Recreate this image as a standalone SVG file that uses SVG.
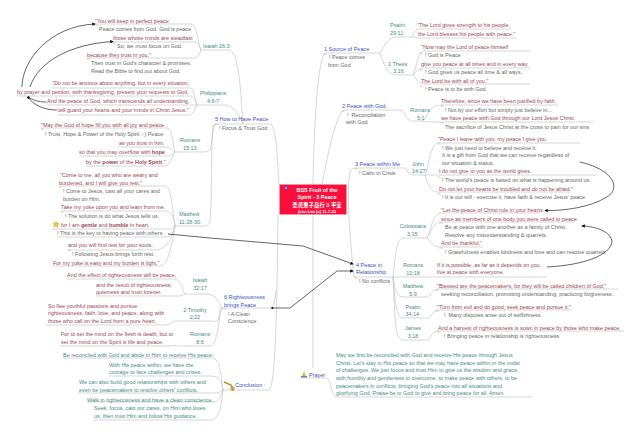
<svg xmlns="http://www.w3.org/2000/svg" width="640" height="437" viewBox="0 0 640 437">
<style>
text{font-family:"Liberation Sans",Arial,sans-serif;font-size:5.45px;white-space:pre}
.r{fill:#9a4452}.g{fill:#666}.t{fill:#458a86}.b{fill:#3a50c4;font-size:5.5px}
.c{text-anchor:middle}.h{font-weight:bold}
.w{fill:#fff;text-anchor:middle;font-weight:bold;font-size:5.45px}
.l{fill:none;stroke:#c4c4c4;stroke-width:.7}
.a{fill:none;stroke:#222;stroke-width:.7}
.n{fill:none;stroke:#999;stroke-width:.5}
</style>
<defs>
<marker id="ah" markerWidth="5" markerHeight="5" refX="4" refY="2.5" orient="auto"><path d="M0 0L5 2.500L0 5z" fill="#111"/></marker>
<marker id="as" markerWidth="4" markerHeight="4" refX="1" refY="2" orient="auto"><circle cx="2" cy="2" r="1.500" fill="#111"/></marker>
<path id="m" class="n" d="M-1.500 0L0-1.600L1.500 0"/>
</defs>
<g id="connectors">
<path class="l" d="M313 184C314 120 318 60 325 53H380C386 44 388 37 396 37H411C414 34 415 29 420 29H511M411 37C414 37 418 38 420 38H517M380 53C384 65 388 75 396 75H413C416 70 418 51 424 51H530M413 75C416 72 418 68 424 68H530M413 75C416 78 418 84 424 84H530"/>
<path class="l" d="M322 184C326 165 335 115 344 110H402C405 115 408 121 412 121H423C428 115 430 105 441 105H558M423 121C428 122 432 122 441 122H593"/>
<path class="l" d="M354 277C350 240 346 190 350 172C351 169 353 168 357 168H405C408 172 410 175 414 175H425C429 165 431 143 438 143H580M425 175H597M425 175C428 185 431 192 437 192H570"/>
<path class="l" d="M354 277H393C395 260 396 238 403 238H427C430 235 432 214 440 213H540M427 238C430 235 433 222 440 222H575M427 238C430 240 432 247 440 247H483M393 277H547M393 277C395 290 397 297 403 297H428C431 295 433 289 438 289H618M393 277C395 300 396 318 403 318H428C432 316 434 310 438 310H572M393 277C395 320 395 340 403 340H428C431 337 433 331 438 331H624"/>
<path class="l" d="M313 215V368M300 378H327C331 380 331 397 337 397H532"/>
<path class="l" d="M279 184C277 150 276 130 271 124H215C211 135 212 145 210 150C208 152 205 152 200 152H175C172 150 170 147 165 147H119M175 152C172 156 170 156 165 156H79M175 152C172 156 170 166 165 166H86M175 152C173 145 172 128 167 128H41M243 124C241 100 240 55 230 50H201C198 45 197 25 192 24H95M201 50C199 45 198 42 193 42H113M201 50C199 55 198 58 193 58H87M243 124C238 110 230 105 225 105H197C195 100 194 88 190 88H52M197 105C195 100 194 96 190 96H17M197 105H47M197 105C195 110 193 115 188 115H58M213 124C211 150 212 200 210 220C209 225 207 226 205 226H175C172 210 172 186 165 186H60M175 226C174 218 172 211 165 211H61M175 226C172 229 170 229 165 229H56M175 226C173 232 172 237 166 237H57M175 226C172 240 165 250 155 250H68M175 226C172 245 168 266 160 266H53"/>
<path class="l" d="M278 215C277 300 276 375 270 390H223M276 290C275 300 274 308 270 308H222C218 310 220 320 217 321C214 322 212 321 210 321H175C172 322 170 325 165 325H46M222 308C218 320 218 345 210 346H178C175 345 173 346 170 346H60M222 308C218 300 216 294 205 294H185C182 290 182 281 175 279H67M185 294C183 295 182 296 178 296H96M223 390C221 375 220 358 212 358H63M223 390C221 380 220 376 210 376H108M223 390C221 392 218 393 213 393H78M223 390C221 396 218 402 213 402H87M223 390C221 405 220 420 210 420H93"/>
<path class="a" marker-end="url(#ah)" d="M22 87C22 60 50 26 95 24"/>
<path class="a" marker-end="url(#ah)" d="M30 87C38 62 70 44 113 41.500"/>
<path class="a" marker-start="url(#as)" d="M28 97C33 100 38 102 46 102"/>
<path class="a" marker-start="url(#as)" d="M28 97C33 105 44 110 57 110"/>
<path class="a" marker-end="url(#ah)" d="M580 162C615 170 622 190 605 198C590 207 565 211 545 210.500"/>
<path class="a" marker-end="url(#ah)" d="M547 267C585 265 610 255 612 242C612 232 595 226 582 226"/>
<path class="a" marker-end="url(#ah)" d="M168 234L210 238L303 246L353 264"/>
<path class="a" marker-end="url(#ah)" d="M290 308L337 271H353"/>
<path class="a" marker-end="url(#as)" d="M290 308H273"/>
</g>
<g id="root"><rect x="279.500" y="184.500" width="67" height="30" fill="#fb0f3c" stroke="#e8a0a8" stroke-width=".6"/>
<circle cx="286" cy="188" r="2" fill="#7a3fd0"/><circle cx="286" cy="188" r=".8" fill="#ffe070"/>
<text class="w" x="317" y="191.500">BSS Fruit of the</text><text class="w" x="317" y="199">Spirit - 3 Peace</text>
<text class="w" x="317" y="206.500" style="font-family:'Liberation Sans','Noto Sans CJK SC',sans-serif">圣灵果子品行 3 平安</text>
<text class="w" x="317" y="212.500" style="font-size:4.1px">(Lim Liat (c) 11-7-23</text></g>
<g id="n1"><text class="b" x="324" y="50.500">1 Source of Peace</text><use href="#m" x="325" y="55"/><text class="g" x="329" y="59">! Peace comes</text><text class="g" x="328" y="66.500">from God</text>
<text class="t" x="390" y="27">Psalm</text><text class="t" x="390" y="35">29:11:</text>
<text class="t" x="388" y="65.500">2 Thess</text><text class="t" x="393" y="73">3:16:</text>
<text class="r" x="417" y="27">"The Lord gives strength to his people;</text><text class="r" x="418" y="36">the Lord blesses his people with peace."</text>
<text class="r" x="421" y="48.500">"Now may the Lord of peace himself</text><use href="#m" x="421" y="54"/><text class="g" x="425" y="57">! God is Peace</text>
<text class="r" x="421" y="65.500">give you peace at all times and in every way.</text><use href="#m" x="421" y="71"/><text class="g" x="425" y="74">! God gives us peace all time &amp; all ways.</text>
<text class="r" x="421" y="82.500">The Lord be with all of you."</text><use href="#m" x="421" y="87"/><text class="g" x="425" y="91">! Peace is to be with God.</text></g>
<g id="n2"><text class="b" x="342" y="108">2 Peace with God:</text><use href="#m" x="343" y="112"/><text class="g" x="347" y="116.500">!  Reconciliation</text><text class="g" x="346" y="124">with God</text>
<text class="t" x="410" y="111.500">Romans</text><text class="t" x="417" y="119.500">5:1</text>
<text class="r" x="441" y="103">Therefore, since we have been justified by faith,</text><use href="#m" x="442" y="107"/><text class="g" x="445" y="111.500">! Not by our effort but simply just believe in...</text>
<text class="r" x="441" y="120">we have peace with God through our Lord Jesus Christ.</text><use href="#m" x="442" y="124"/><text class="g" x="445" y="128.500">The sacrifice of Jesus Christ at the cross to pain for our sins</text></g>
<g id="n3"><text class="b" x="355" y="166">3 Peace within Me</text><use href="#m" x="356" y="170"/><text class="g" x="359" y="174.500">! Calm in Crisis</text>
<text class="t" x="412" y="165.500">John</text><text class="t" x="412" y="173">14:27:</text>
<text class="r" x="438" y="141">"Peace I leave with you; my peace I give you.</text><use href="#m" x="439" y="145"/><text class="g" x="442" y="149.500">! We just need to believe and receive it.</text>
<text class="g" x="442" y="157">It is a gift from God that we can receive regardless of</text><text class="g" x="442" y="164.500">our situation &amp; status.</text>
<text class="r" x="439" y="173">I do not give to you as the world gives.</text><use href="#m" x="439" y="178"/><text class="g" x="442" y="182">! The world's peace is based on what is happening around us.</text>
<text class="r" x="439" y="190.500">Do not let your hearts be troubled and do not be afraid."</text><use href="#m" x="439" y="195"/><text class="g" x="442" y="199">! It is our will - exercise it, have faith &amp; receive Jesus' peace</text></g>
<g id="n4"><text class="b" x="356" y="266.500">4 Peace in</text><text class="b" x="356" y="274">Relationship</text><use href="#m" x="356" y="279"/><text class="g" x="359" y="283">! No conflicts</text>
<text class="t c" x="413" y="228">Colossians</text><text class="t c" x="413" y="236">3:15:</text><text class="t c" x="413" y="266.500">Romans</text><text class="t c" x="413" y="274.500">12:18</text>
<text class="t c" x="413" y="287.500">Matthew</text><text class="t c" x="413" y="295.500">5:9</text><text class="t c" x="413" y="308.500">Psalm</text><text class="t c" x="413" y="316">34:14:</text><text class="t c" x="413" y="330">James</text><text class="t c" x="413" y="338">3:18</text>
<text class="r" x="441" y="211.500">"Let the peace of Christ rule in your hearts</text><text class="r" x="441" y="220.500">since as members of one body you were called to peace.</text><use href="#m" x="441" y="224"/><text class="g" x="445" y="228.500">Be at peace with one another as a family of Christ.</text><text class="g" x="445" y="236.500">Resolve any misunderstanding &amp; quarrels.</text>
<text class="r" x="441" y="245">And be thankful."</text><use href="#m" x="441" y="249"/><text class="g" x="445" y="253.500">! Gratefulness enables kindness and love and can resolve quarrels</text>
<text class="r" x="437" y="266.500">If it is possible, as far as it depends on you,</text><text class="r" x="437" y="274">live at peace with everyone.</text>
<text class="r" x="437" y="287.500">"Blessed are the peacemakers, for they will be called children of God."</text><use href="#m" x="437" y="291"/><text class="g" x="441" y="295.500">seeking reconciliation, promoting understanding, practicing forgiveness.</text>
<text class="r" x="437" y="308.500">"Turn from evil and do good; seek peace and pursue it."</text><use href="#m" x="437" y="312"/><text class="g" x="444" y="316.500">!  Many disputes arise out of selfishness.</text>
<text class="r" x="438" y="329.500">And a harvest of righteousness is sown in peace by those who make peace.</text><use href="#m" x="438" y="333"/><text class="g" x="444" y="337.500">! Bringing peace in relationship is righteousness</text></g>
<g id="n5"><text class="b" x="215" y="121">5 How to Have Peace</text><use href="#m" x="216" y="125"/><text class="g" x="219" y="129.500">! Focus &amp; Trust God</text>
<text class="t" x="203" y="48">Isaiah 26:3:</text><text class="t" x="200" y="95">Philippians</text><text class="t" x="207" y="103">4:6-7:</text>
<text class="t" x="180" y="142">Romans</text><text class="t" x="183" y="150">15:13:</text><text class="t" x="179" y="216">Matthew</text><text class="t" x="179" y="224">11:28-30:</text>
<text class="r" x="95" y="22.500">"You will keep in perfect peace</text><use href="#m" x="96" y="26"/><text class="g" x="99" y="31">Peace comes from God. God is peace</text>
<text class="r" x="113" y="40">those whose minds are steadfast</text><use href="#m" x="114" y="44"/><text class="g" x="117" y="48">So, we must focus on God.</text>
<text class="r" x="87" y="56.500">because they trust in you."</text><use href="#m" x="88" y="60"/><text class="g" x="91" y="65">Then trust in God's character &amp; promises.</text><text class="g" x="91" y="73">Read the Bible to find out about God.</text>
<text class="r" x="52" y="85">"Do not be anxious about anything, but in every situation,</text><text class="r" x="17" y="94">by prayer and petition, with thanksgiving, present your requests to God.</text><text class="r" x="47" y="103">And the peace of God, which transcends all understanding,</text><text class="r" x="58" y="112">will guard your hearts and your minds in Christ Jesus."</text>
<text class="r" x="41" y="127">"May the God of hope fill you with all joy and peace</text><use href="#m" x="42" y="130"/><text class="g" x="45" y="135.500">! Trust, Hope &amp; Power of the Holy Spirit :-) Peace</text>
<text class="r" x="119" y="144.500">as you trust in him,</text><text class="r" x="79" y="154">so that you may overflow with <tspan class="h">hope</tspan></text><text class="r" x="86" y="163.500">by the <tspan class="h">power</tspan> of the <tspan class="h">Holy Spirit</tspan>."</text>
<text class="r" x="60" y="176.500">"Come to me, all you who are weary and</text><text class="r" x="59" y="184.500">burdened, and I will give you rest."</text><use href="#m" x="60" y="188"/><text class="g" x="63" y="193">! Come to Jesus, cast all your cares and</text><text class="g" x="63" y="200.500">burden on Him.</text>
<text class="r" x="61" y="209">Take my yoke upon you and learn from me,</text><use href="#m" x="62" y="213"/><text class="g" x="65" y="217.500">! The solution is do what Jesus tells us.</text>
<path d="M56 221L57 223.300L59.400 223.500L57.600 225L58.200 227.400L56 226.100L53.800 227.400L54.400 225L52.600 223.500L55 223.300z" fill="#f3c32c" stroke="#b8922a" stroke-width=".3"/><text class="r" x="61" y="226.500">for I am <tspan class="h">gentle</tspan> and <tspan class="h">humble</tspan> in heart,</text><use href="#m" x="54" y="230"/><text class="g" x="57" y="235">! This is the key to having peace with others.</text>
<text class="r" x="68" y="247">and you will find rest for your souls.</text><use href="#m" x="69" y="251"/><text class="g" x="72" y="255.500">! Following Jesus brings forth rest.</text><text class="r" x="53" y="264.500">For my yoke is easy and my burden is light."</text></g>
<g id="n6"><text class="b" x="224" y="299">6 Righteousness</text><text class="b" x="224" y="306.500">brings Peace</text><use href="#m" x="225" y="310"/><text class="g" x="228" y="315.500">! A Clean</text><text class="g" x="228" y="323">Conscience</text>
<text class="t c" x="200" y="282">Isaiah</text><text class="t c" x="200" y="290">32:17</text><text class="t c" x="195" y="311.500">2 Timothy</text><text class="t c" x="195" y="319">2:22</text><text class="t c" x="200" y="336">Romans</text><text class="t c" x="200" y="344">8:6</text>
<text class="r" x="67" y="277">And the effect of righteousness will be peace,</text><text class="r" x="96" y="286.500">and the result of righteousness,</text><text class="r" x="96" y="294">quietness and trust forever.</text>
<text class="r" x="48" y="307.500">So flee youthful passions and pursue</text><text class="r" x="48" y="315">righteousness, faith, love, and peace, along with</text><text class="r" x="48" y="323">those who call on the Lord from a pure heart.</text>
<text class="r" x="61" y="336">For to set the mind on the flesh is death, but to</text><text class="r" x="61" y="344">set the mind on the Spirit is life and peace.</text></g>
<g id="conclusion"><path d="M224 382L231 385L233 390" fill="none" stroke="#c08a1c" stroke-width="1.400"/><circle cx="232.500" cy="388.500" r="1.800" fill="none" stroke="#c08a1c" stroke-width="1"/>
<text class="b" x="235" y="386.500">Conclusion<tspan class="t"> :</tspan></text>
<text class="t" x="63" y="357">Be reconciled with God and abide in Him to receive His peace.</text><text class="t" x="109" y="366.500">With His peace within, we have the</text><text class="t" x="109" y="374">courage to face challenges and crises.</text>
<text class="t" x="79" y="384">We can also build good relationships with others and</text><text class="t" x="79" y="392">even be peacemakers to resolve others' conflicts.</text><text class="t" x="87" y="401.500">Walk in righteousness and have a clean conscience.</text>
<text class="t" x="94" y="410">Seek, focus, cast our cares, on Him who loves</text><text class="t" x="94" y="418">us, then trust Him and follow His guidance.</text></g>
<g id="prayer"><path d="M304 371L306 376H307V377H301V376H302z" fill="#e4b83a"/><path d="M301 376H307V377.500H301z" fill="#4a90b8"/>
<text class="b" x="309" y="376.500">Prayer</text>
<text class="t" x="336" y="357">May we first be reconciled with God and receive His peace through Jesus</text><text class="t" x="336" y="364.500">Christ. Let's stay in His peace so that we may have peace within in the midst</text><text class="t" x="336" y="372">of challenges. We just focus and trust Him to give us the wisdom and grace,</text><text class="t" x="336" y="380">with humility and gentleness to overcome, to make peace with others, to be</text><text class="t" x="336" y="387.500">peacemakers in conflicts, bringing God's peace into all situations and</text><text class="t" x="336" y="395">glorifying God. Praise be to God to give and bring peace for all. Amen.</text></g>
</svg>
